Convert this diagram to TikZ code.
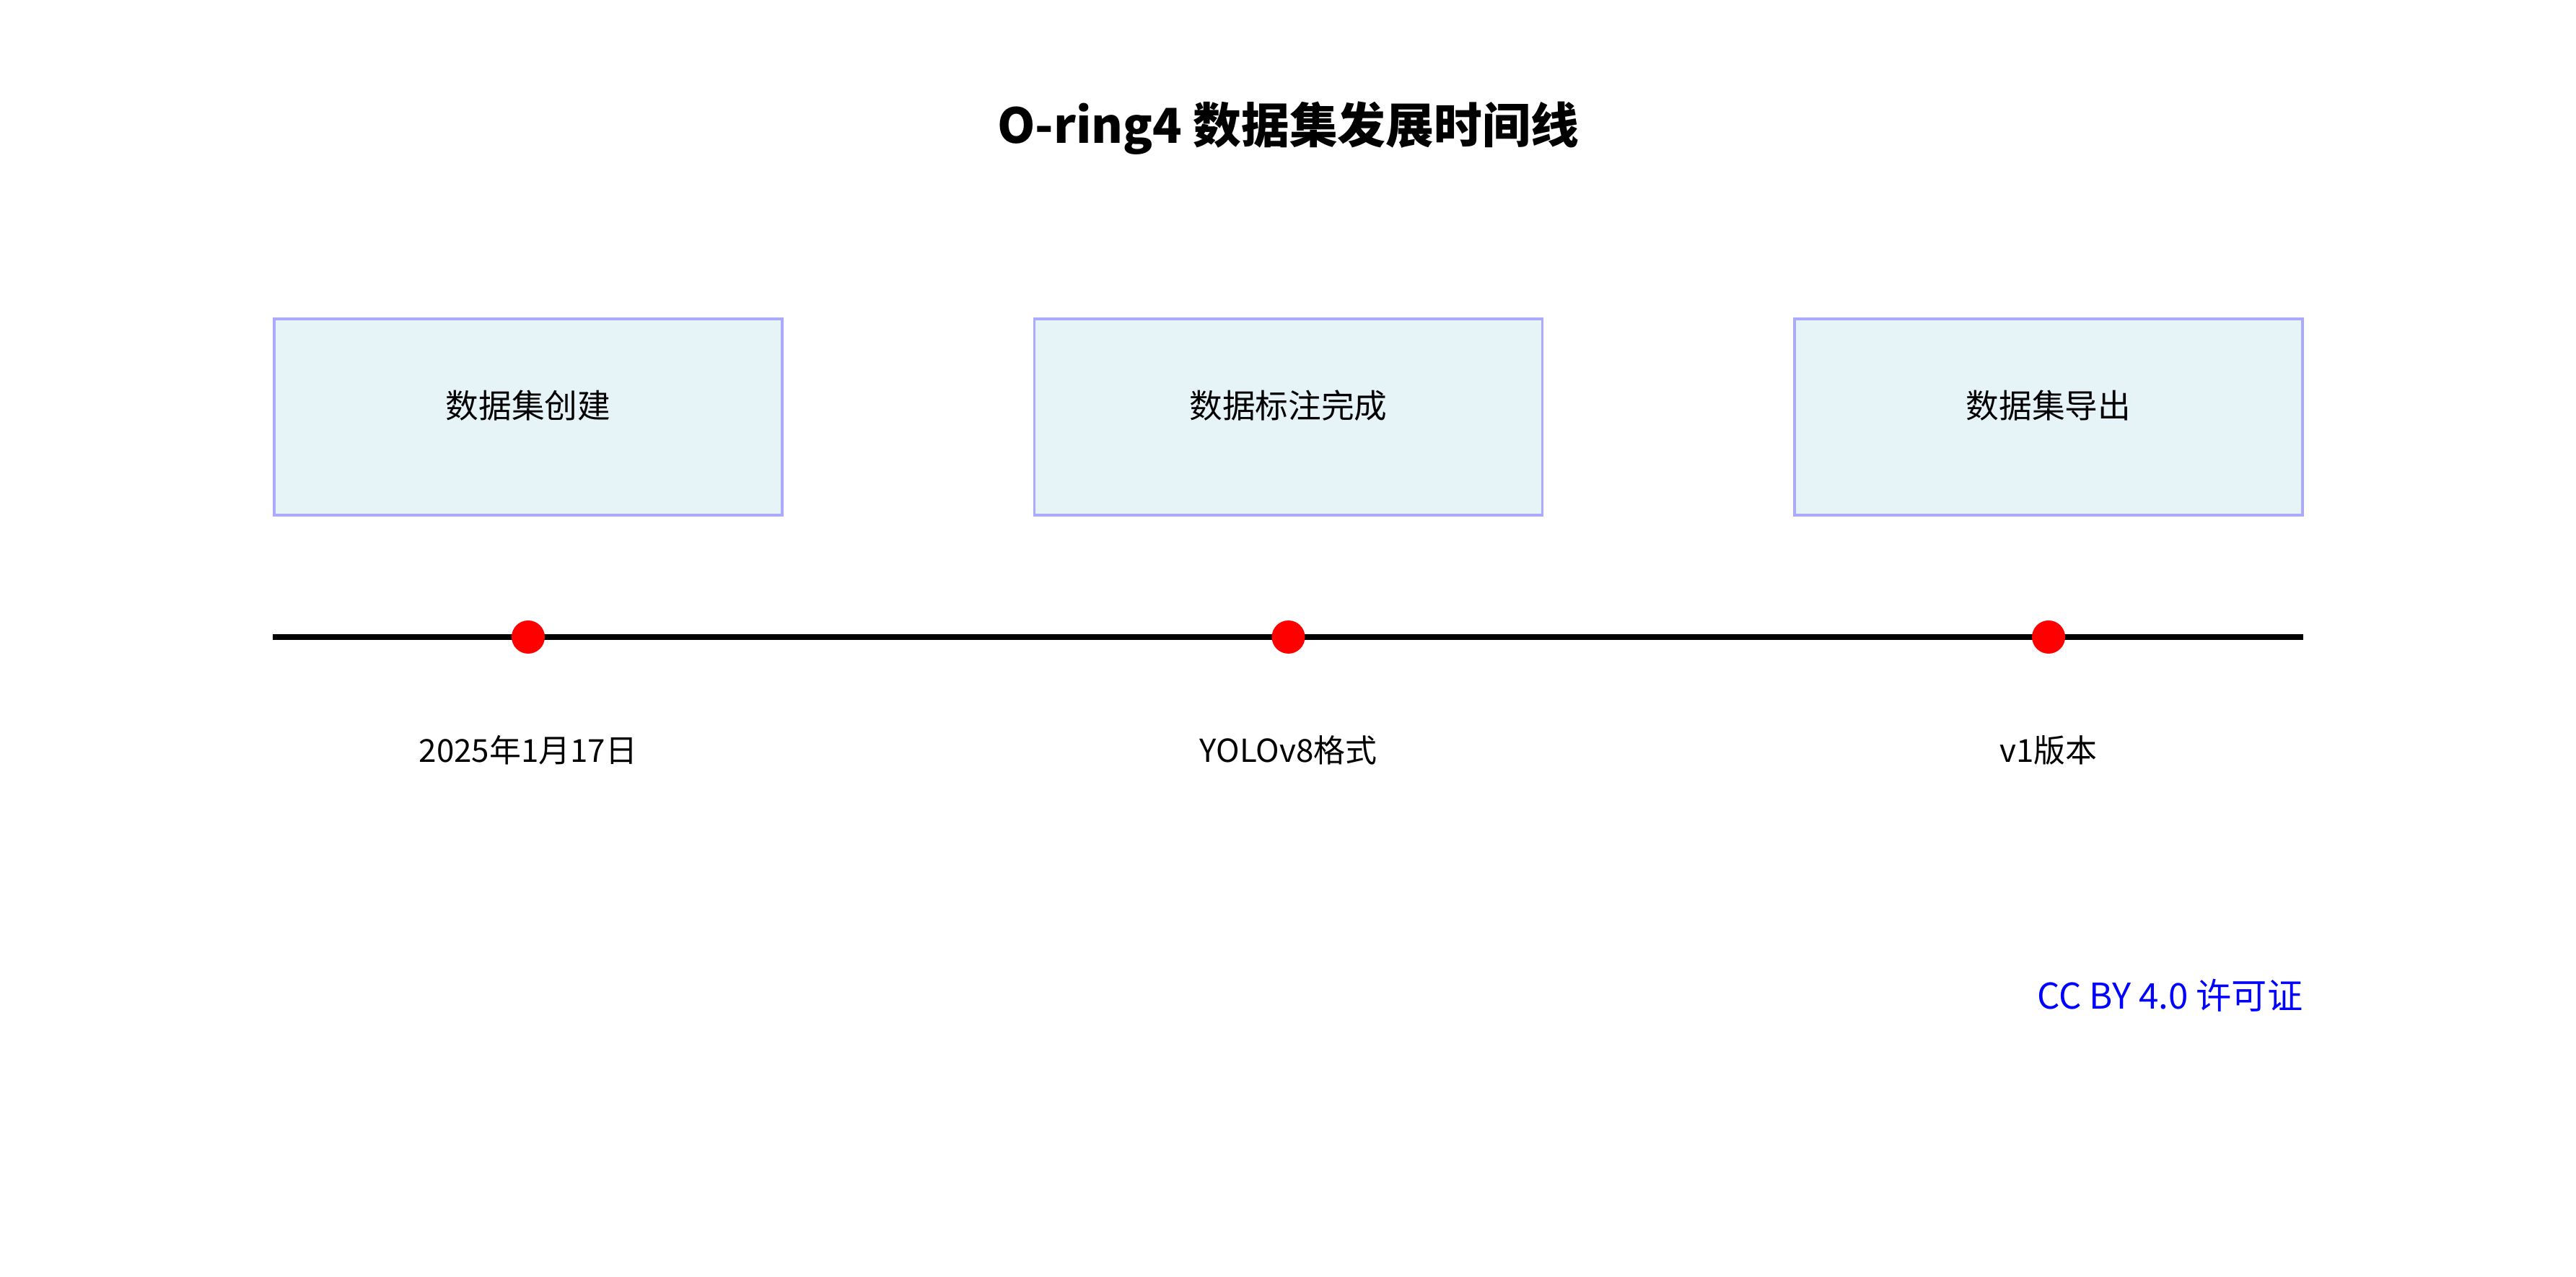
\documentclass[tikz,border=0pt]{standalone}
\usepackage{fontspec}
\setmainfont{Noto Sans CJK SC}
\usepackage{tikz}
\usetikzlibrary{positioning}
\definecolor{stageline}{RGB}{170,170,255}
\definecolor{stagefill}{RGB}{230,243,247}
\definecolor{licblue}{RGB}{0,0,255}

\begin{document}
\begin{tikzpicture}[font=\fontsize{13}{15}\selectfont,node distance=34.6mm]
\tikzstyle{stage}=[draw=stageline,fill=stagefill,line width=1pt,
  minimum width=70.4mm,minimum height=27.2mm,align=center]
\tikzstyle{stagetext}=[yshift=1.6mm]
\tikzstyle{tldot}=[circle,fill=red,inner sep=0pt,minimum size=4.6mm]
\useasboundingbox (0,0) rectangle (35.7,17.7);

\node[font=\fontsize{19}{22}\selectfont\bfseries] (title) at (17.85,15.92)
  {O-ring4 数据集发展时间线};

\node[stage,label={[stagetext]center:数据集创建}] (b1) at (7.32,11.92) {};
\node[stage,right=of b1,label={[stagetext]center:数据标注完成}] (b2) {};
\node[stage,right=of b2,label={[stagetext]center:数据集导出}] (b3) {};

% timeline
\coordinate (tlstart) at (3.78,8.87);
\coordinate (tlend) at (31.92,8.87);
\draw[line width=2.3pt] (tlstart) -- (tlend);
\node[tldot] (d1) at (b1 |- tlstart) {};
\node[tldot] (d2) at (b2 |- tlstart) {};
\node[tldot] (d3) at (b3 |- tlstart) {};

\node[font=\fontsize{12.5}{15}\selectfont] (l1) at ([yshift=-15.7mm]d1) {2025年1月17日};
\node[font=\fontsize{12.5}{15}\selectfont] (l2) at ([yshift=-15.7mm]d2) {YOLOv8格式};
\node[font=\fontsize{12.5}{15}\selectfont] (l3) at ([yshift=-15.7mm]d3) {v1版本};

\node[anchor=east,text=licblue,font=\fontsize{14}{16}\selectfont,inner sep=0pt]
  (lic) at (31.92,3.90) {CC BY 4.0 许可证};
\end{tikzpicture}
\end{document}
